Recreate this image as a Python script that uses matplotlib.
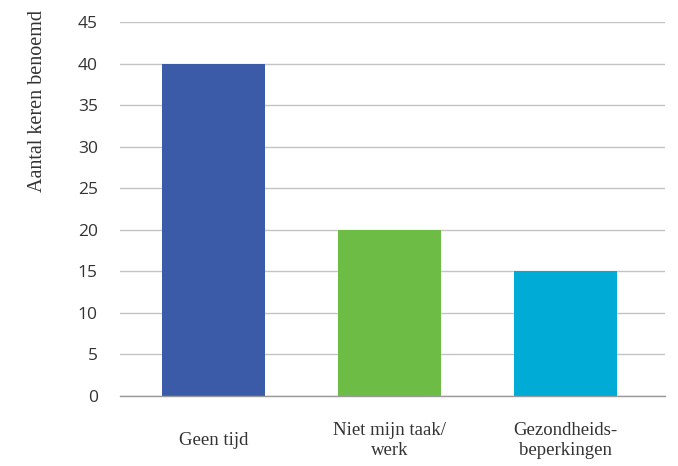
import matplotlib.pyplot as plt

categories = ['Geen tijd', 'Niet mijn taak/\nwerk', 'Gezondheids-\nbeperkingen']
values = [40, 20, 15]
colors = ['#3B5AA8', '#6CBC45', '#00ACD6']
yticks = [0, 5, 10, 15, 20, 25, 30, 35, 40, 45]

fig = plt.figure(figsize=(6.78, 4.66), dpi=100)
ax = fig.add_axes([120/678, 1-396/466, 545/678, (396-22)/466])

x = list(range(len(categories)))
ax.bar(x, values, width=0.585, color=colors, zorder=3)

ax.set_xlim(-0.531, 2.565)
ax.set_ylim(0, 45)
ax.set_yticks(yticks)
ax.set_yticklabels([str(t) for t in yticks], family='Open Sans', fontsize=12.5, color='#333333')
ax.yaxis.grid(True, color='#C4C4C4', linewidth=1, zorder=0)
ax.set_axisbelow(True)

ax.set_xticks(x)
ax.set_xticklabels(categories, family='Liberation Serif', fontsize=13.5, color='#333333',
                   va='center', linespacing=1.2)
ax.tick_params(axis='x', length=0, pad=32)
ax.tick_params(axis='y', length=0, pad=16)

for s in ['top', 'right', 'left']:
    ax.spines[s].set_visible(False)
ax.spines['bottom'].set_color('#999999')
ax.spines['bottom'].set_linewidth(1)
ax.spines['bottom'].set_zorder(4)

ax.set_ylabel('Aantal keren benoemd', family='Liberation Serif', fontsize=14.5, color='#333333')
ax.yaxis.set_label_coords(-0.134, 0.789)

fig.savefig('out.png', dpi=100)
